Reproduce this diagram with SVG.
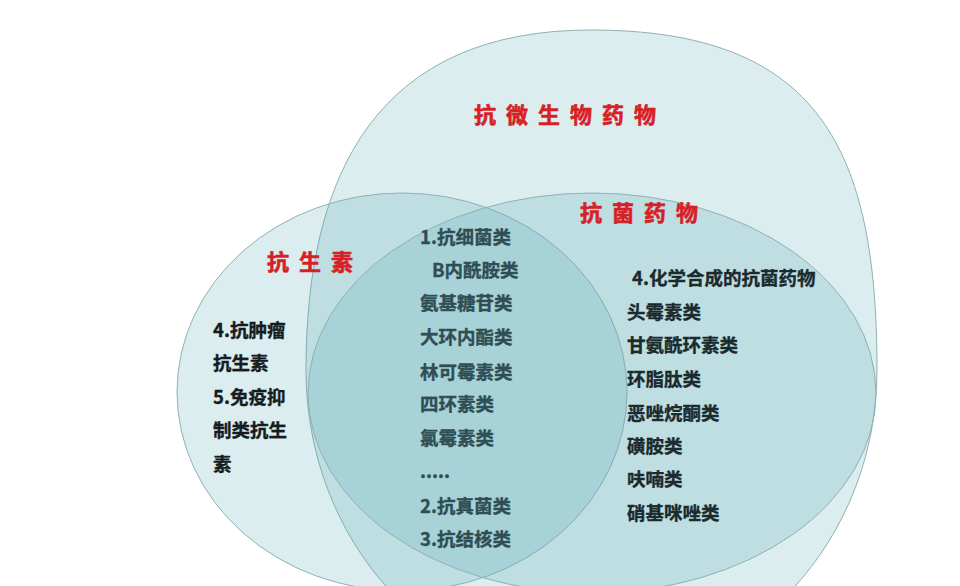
<svg xmlns="http://www.w3.org/2000/svg" width="960" height="586" viewBox="0 0 960 586">
<style>
.set{fill:#4aa6b0;fill-opacity:0.2;stroke:#8fb1b4;stroke-width:1}
.title{font-family:"Noto Sans CJK SC","Noto Sans",sans-serif;font-weight:700;font-size:22px;fill:#d71f26;stroke:#d71f26;stroke-width:0.6;letter-spacing:10px}
.item{font-family:"Noto Sans CJK SC","Noto Sans",sans-serif;font-weight:700;font-size:18.5px;stroke-width:0.35}
.left{fill:#161c1e;stroke:#161c1e}
.mid{fill:#2f4e54;stroke:#2f4e54}
.right{fill:#1b2a2d;stroke:#1b2a2d}
</style>
<rect width="960" height="586" fill="#ffffff"/>
<g id="set-antimicrobial">
<path class="set" d="M591,30 C820,30 877,150 877,370 A289,310 0 0 1 588,680 A282,310 0 0 1 306,370 C306,170 380,30 591,30 Z"/>
<text class="title" x="474" y="123">抗微生物药物</text>
</g>
<g id="set-antibiotics">
<ellipse class="set" cx="402" cy="392" rx="225" ry="199"/>
<text class="title" x="267" y="270">抗生素</text>
</g>
<g id="set-antibacterial">
<ellipse class="set" cx="592" cy="393" rx="284" ry="200"/>
<text class="title" x="580" y="221">抗菌药物</text>
</g>
<g id="region-antibiotics-only" class="item left">
<text x="213" y="337">4.抗肿瘤</text>
<text x="213" y="370">抗生素</text>
<text x="213" y="404">5.免疫抑</text>
<text x="213" y="437">制类抗生</text>
<text x="213" y="471">素</text>
</g>
<g id="region-overlap" class="item mid">
<text x="420" y="244">1.抗细菌类</text>
<text x="432" y="277">B内酰胺类</text>
<text x="420" y="310">氨基糖苷类</text>
<text x="420" y="344">大环内酯类</text>
<text x="420" y="379">林可霉素类</text>
<text x="420" y="411">四环素类</text>
<text x="420" y="445">氯霉素类</text>
<text x="420" y="478">.....</text>
<text x="420" y="513">2.抗真菌类</text>
<text x="420" y="546">3.抗结核类</text>
</g>
<g id="region-synthetic" class="item right">
<text x="632" y="285">4.化学合成的抗菌药物</text>
<text x="627" y="319">头霉素类</text>
<text x="627" y="352">甘氨酰环素类</text>
<text x="627" y="386">环脂肽类</text>
<text x="627" y="420">恶唑烷酮类</text>
<text x="627" y="453">磺胺类</text>
<text x="627" y="486">呋喃类</text>
<text x="627" y="520">硝基咪唑类</text>
</g>
<g id="connectors"/>
</svg>
